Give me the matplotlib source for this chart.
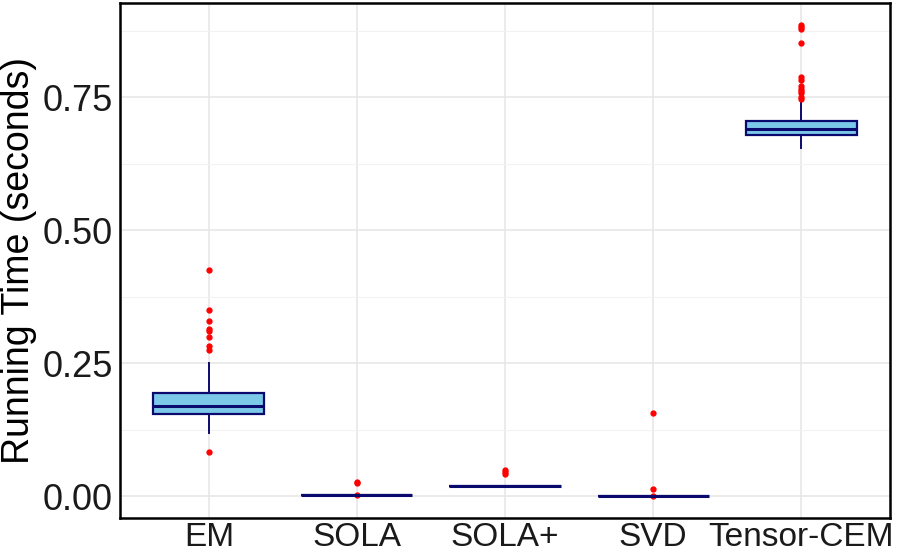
import matplotlib.pyplot as plt
from matplotlib.ticker import MultipleLocator

plt.rcParams['font.family'] = ['Liberation Sans', 'DejaVu Sans']

methods = ['EM', 'SOLA', 'SOLA+', 'SVD', 'Tensor-CEM']

# box statistics (seconds)
q1 = [0.154, 0.003, 0.0195, 0.0005, 0.679]
med = [0.169, 0.003, 0.0195, 0.0005, 0.690]
q3 = [0.194, 0.003, 0.0195, 0.0005, 0.705]
whislo = [0.118, 0.003, 0.0195, 0.0005, 0.654]
whishi = [0.250, 0.003, 0.0195, 0.0005, 0.744]
outliers = [
    [0.425, 0.350, 0.329, 0.314, 0.311, 0.299, 0.282, 0.274, 0.083],
    [0.026, 0.025, 0.003],
    [0.050, 0.046, 0.041],
    [0.157, 0.013, 0.001],
    [0.885, 0.882, 0.879, 0.851, 0.788, 0.782, 0.771, 0.766, 0.762,
     0.757, 0.751, 0.747],
]

stats = []
for i, m in enumerate(methods):
    stats.append({'label': m, 'q1': q1[i], 'med': med[i], 'q3': q3[i],
                  'whislo': whislo[i], 'whishi': whishi[i],
                  'fliers': outliers[i]})

fig = plt.figure(figsize=(8.98, 5.52), dpi=100)
ax = fig.add_axes([120 / 898, 34 / 552, 770 / 898, 515 / 552])

pos = list(range(1, len(methods) + 1))
ax.bxp(stats, positions=pos, widths=0.75, patch_artist=True, showcaps=False,
       boxprops=dict(facecolor='#7cc8e8', edgecolor='#0a0a6e', linewidth=1.6),
       medianprops=dict(color='#0a0a6e', linewidth=2.2),
       whiskerprops=dict(color='#0a0a6e', linewidth=1.4),
       flierprops=dict(marker='o', markerfacecolor='red', markeredgecolor='red',
                       markersize=3.5, linestyle='none'),
       zorder=3)

ax.set_xlim(0.4, 5.6)
ax.set_ylim(-0.041, 0.927)
ax.yaxis.set_major_locator(MultipleLocator(0.25))
ax.yaxis.set_minor_locator(MultipleLocator(0.125))
ax.set_yticks([0, 0.25, 0.5, 0.75])
ax.set_yticklabels(['0.00', '0.25', '0.50', '0.75'])
ax.set_xticks(pos)
ax.set_xticklabels(methods)

ax.grid(True, which='major', color='#e6e6e6', linewidth=1.1, zorder=0)
ax.grid(True, which='minor', axis='y', color='#f2f2f2', linewidth=0.8, zorder=0)
ax.set_axisbelow(True)

ax.tick_params(axis='both', which='both', length=0, labelcolor='#1a1a1a')
ax.tick_params(axis='y', labelsize=26, pad=5)
ax.tick_params(axis='x', labelsize=24, pad=3)
ax.set_ylabel('Running Time (seconds)', fontsize=27, labelpad=4)
for s in ax.spines.values():
    s.set_color('black')
    s.set_linewidth(1.8)

fig.savefig('out.png', dpi=100)
